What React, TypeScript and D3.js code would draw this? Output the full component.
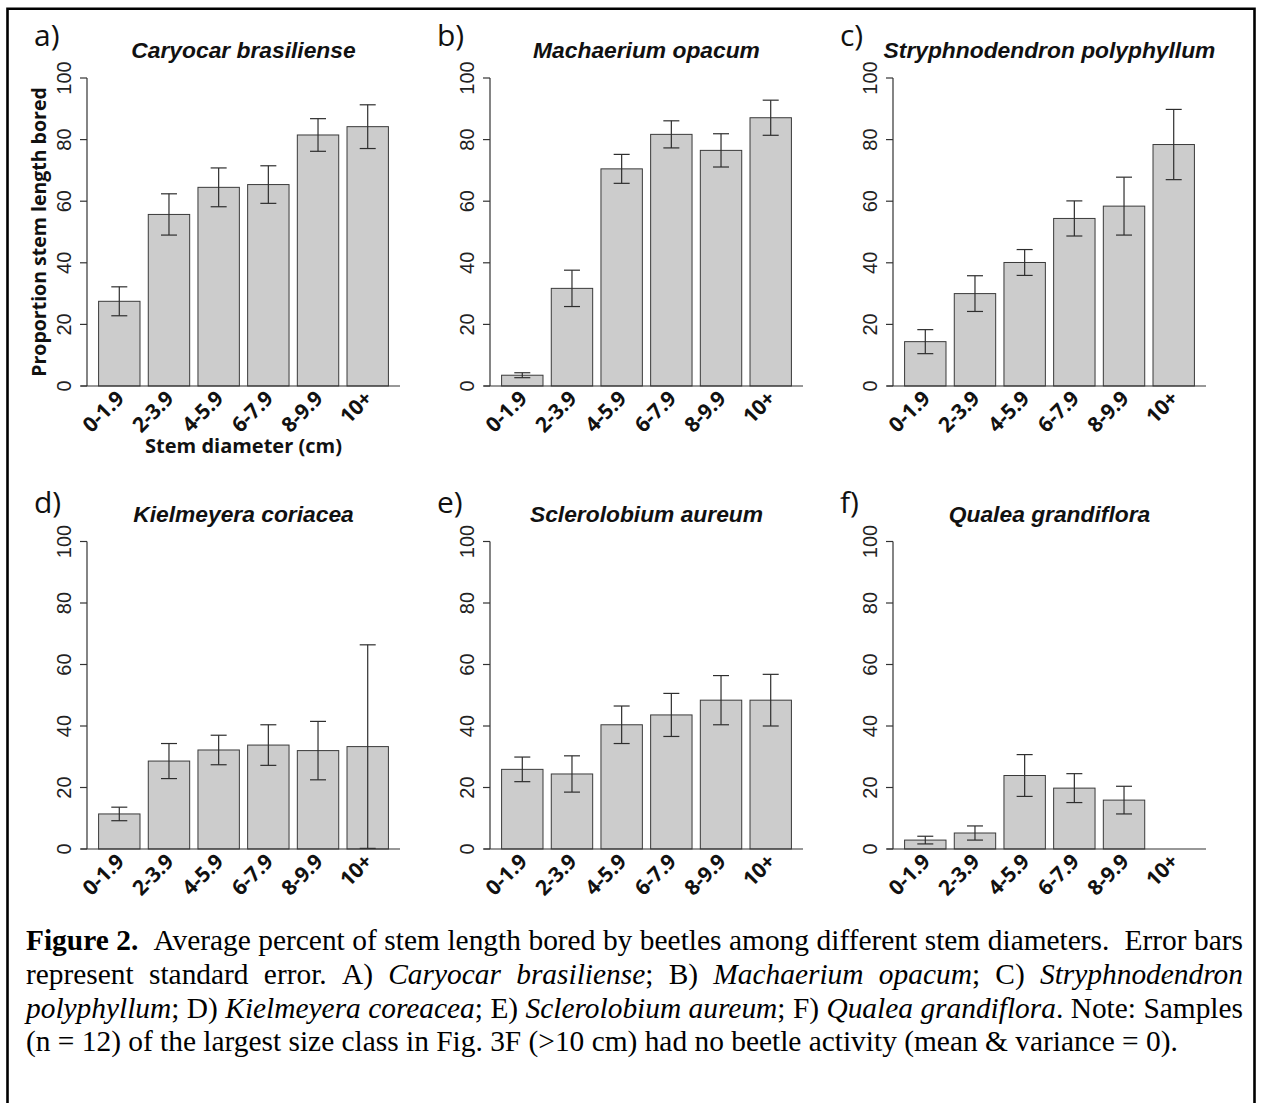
import React, { useMemo } from "react";
import * as d3 from "d3";

// Stem diameter classes (cm) shared by every panel
const sizeClasses = ["0-1.9", "2-3.9", "4-5.9", "6-7.9", "8-9.9", "10+"];
const yTicks = [0, 20, 40, 60, 80, 100];

const panelLetters = ["a)", "b)", "c)", "d)", "e)", "f)"];
const speciesNames = [
  "Caryocar brasiliense",
  "Machaerium opacum",
  "Stryphnodendron polyphyllum",
  "Kielmeyera coriacea",
  "Sclerolobium aureum",
  "Qualea grandiflora",
];

// Mean percent of stem length bored, and its standard error
const meanCaryocar = [27.5, 55.7, 64.5, 65.4, 81.5, 84.2];
const seCaryocar = [4.7, 6.7, 6.3, 6.1, 5.3, 7.1];
const meanMachaerium = [3.5, 31.7, 70.5, 81.7, 76.5, 87.1];
const seMachaerium = [0.8, 5.9, 4.7, 4.4, 5.4, 5.7];
const meanStryphnodendron = [14.4, 30.0, 40.1, 54.4, 58.4, 78.4];
const seStryphnodendron = [3.9, 5.8, 4.2, 5.7, 9.4, 11.4];
const meanKielmeyera = [11.4, 28.6, 32.2, 33.8, 32.0, 33.3];
const seKielmeyera = [2.2, 5.7, 4.8, 6.6, 9.5, 33.1];
const meanSclerolobium = [25.9, 24.4, 40.4, 43.6, 48.4, 48.4];
const seSclerolobium = [4.0, 5.9, 6.1, 7.0, 8.0, 8.4];
const meanQualea = [2.9, 5.2, 23.9, 19.8, 15.9, 0];
const seQualea = [1.25, 2.3, 6.8, 4.7, 4.5, 0];

const panelMeans = [meanCaryocar, meanMachaerium, meanStryphnodendron, meanKielmeyera, meanSclerolobium, meanQualea];
const panelSE = [seCaryocar, seMachaerium, seStryphnodendron, seKielmeyera, seSclerolobium, seQualea];

const yAxisTitle = "Proportion stem length bored";
const xAxisTitle = "Stem diameter (cm)";

type Run = { t: string; s?: "b" | "i" };
const captionLines: Run[][] = [
  [{ t: "Figure 2.", s: "b" }, { t: "  Average percent of stem length bored by beetles among different stem diameters.  Error bars" }],
  [
    { t: "represent standard error. A) " },
    { t: "Caryocar brasiliense", s: "i" },
    { t: "; B) " },
    { t: "Machaerium opacum", s: "i" },
    { t: "; C) " },
    { t: "Stryphnodendron", s: "i" },
  ],
  [
    { t: "polyphyllum", s: "i" },
    { t: "; D) " },
    { t: "Kielmeyera coreacea", s: "i" },
    { t: "; E) " },
    { t: "Sclerolobium aureum", s: "i" },
    { t: "; F) " },
    { t: "Qualea grandiflora", s: "i" },
    { t: ". Note: Samples" },
  ],
  [{ t: "(n = 12) of the largest size class in Fig. 3F (>10 cm) had no beetle activity (mean & variance = 0)." }],
];
const captionJustified = [true, true, true, false];

// Layout constants
const COL_X = [87, 490, 893];
const ROW_Y0 = [386, 849];
const ROW_Y100 = [78, 541.5];
const PLOT_W = 313;
const LETTER_BASE = [46, 513];
const TITLE_BASE = [57.5, 522];

const CAP_LEFT = 26;
const CAP_RIGHT = 1243;
const CAP_BASE = [950, 984, 1017.5, 1051];
const CAP_SIZE = 29.4;
const SERIF = '"Liberation Serif", "Times New Roman", serif';

const AXIS_COLOR = "#333";

function Panel({ i }: { i: number }) {
  const col = i % 3;
  const row = Math.floor(i / 3);
  const ax = COL_X[col];
  const y = d3.scaleLinear().domain([0, 100]).range([ROW_Y0[row], ROW_Y100[row]]);
  const x = d3
    .scaleBand<string>()
    .domain(sizeClasses)
    .range([ax, ax + PLOT_W])
    .paddingInner(1 / 6)
    .paddingOuter(0.2333);
  const means = panelMeans[i];
  const ses = panelSE[i];
  const bw = x.bandwidth();
  const y0 = y(0);
  const cx = (c: string) => (x(c) as number) + bw / 2;

  return (
    <g>
      <text
        x={ax - 53}
        y={LETTER_BASE[row]}
        fontFamily='"Open Sans", sans-serif'
        fontSize={30}
        fill="#111"
      >
        {panelLetters[i]}
      </text>
      <text
        x={ax + PLOT_W / 2}
        y={TITLE_BASE[row]}
        textAnchor="middle"
        fontFamily='"Liberation Sans", Arial, sans-serif'
        fontWeight="bold"
        fontStyle="italic"
        fontSize={22.8}
        fill="#111"
      >
        {speciesNames[i]}
      </text>

      {/* bars */}
      {sizeClasses.map((c, k) =>
        means[k] > 0 ? (
          <rect
            key={c}
            x={x(c)}
            y={y(means[k])}
            width={bw}
            height={y0 - y(means[k])}
            fill="#cccccc"
            stroke="#3a3a3a"
            strokeWidth={1}
          />
        ) : null
      )}

      {/* standard error whiskers */}
      {sizeClasses.map((c, k) => {
        if (!(ses[k] > 0)) return null;
        const hi = y(Math.min(100, means[k] + ses[k]));
        const lo = y(Math.max(0, means[k] - ses[k]));
        const m = cx(c);
        return (
          <g key={c} stroke="#2e2e2e" strokeWidth={1.2} fill="none">
            <line x1={m} x2={m} y1={hi} y2={lo} />
            <line x1={m - 8} x2={m + 8} y1={hi} y2={hi} />
            <line x1={m - 8} x2={m + 8} y1={lo} y2={lo} />
          </g>
        );
      })}

      {/* axes */}
      <line x1={ax - 6} x2={ax + PLOT_W} y1={y0} y2={y0} stroke={AXIS_COLOR} strokeWidth={1.2} />
      <line x1={ax} x2={ax} y1={y(0)} y2={y(100)} stroke={AXIS_COLOR} strokeWidth={1.2} />
      {yTicks.map((t) => (
        <g key={t}>
          <line x1={ax - 7} x2={ax} y1={y(t)} y2={y(t)} stroke={AXIS_COLOR} strokeWidth={1.2} />
          <text
            transform={`translate(${ax - 16},${y(t)}) rotate(-90)`}
            textAnchor="middle"
            fontFamily='"Liberation Sans", Arial, sans-serif'
            fontSize={20}
            fill="#222"
          >
            {t}
          </text>
        </g>
      ))}
      {sizeClasses.map((c) => (
        <text
          key={c}
          transform={`translate(${cx(c) + 6},${y0 + 14}) rotate(-45)`}
          textAnchor="end"
          fontFamily='"Open Sans", sans-serif'
          fontWeight="bold"
          fontSize={21}
          letterSpacing={-0.2}
          fill="#111"
        >
          {c}
        </text>
      ))}

      {i === 0 && (
        <>
          <text
            transform={`translate(46,${(y(0) + y(100)) / 2}) rotate(-90)`}
            textAnchor="middle"
            fontFamily='"Open Sans", sans-serif'
            fontWeight="bold"
            fontSize={19.5}
            fill="#111"
          >
            {yAxisTitle}
          </text>
          <text
            x={ax + PLOT_W / 2}
            y={453}
            textAnchor="middle"
            fontFamily='"Open Sans", sans-serif'
            fontWeight="bold"
            fontSize={20}
            fill="#111"
          >
            {xAxisTitle}
          </text>
        </>
      )}
    </g>
  );
}

type Word = { runs: Run[]; spaces: number };

function fontFor(s?: "b" | "i") {
  const w = s === "b" ? "bold " : "";
  const st = s === "i" ? "italic " : "";
  return `${st}${w}${CAP_SIZE}px ${SERIF}`;
}

function splitWords(line: Run[]): Word[] {
  const words: Word[] = [];
  let cur: Word | null = null;
  let pending = 0;
  for (const run of line) {
    for (const ch of run.t) {
      if (ch === " ") {
        if (cur) {
          words.push(cur);
          cur = null;
        }
        pending++;
      } else {
        if (!cur) {
          cur = { runs: [], spaces: pending };
          pending = 0;
        }
        const last = cur.runs[cur.runs.length - 1];
        if (last && last.s === run.s) last.t += ch;
        else cur.runs.push({ t: ch, s: run.s });
      }
    }
  }
  if (cur) words.push(cur);
  return words;
}

function Caption() {
  const laid = useMemo(() => {
    const canvas = document.createElement("canvas");
    const ctx = canvas.getContext("2d") as CanvasRenderingContext2D;
    const measure = (t: string, s?: "b" | "i") => {
      ctx.font = fontFor(s);
      return ctx.measureText(t).width;
    };
    return captionLines.map((line, li) => {
      const words = splitWords(line);
      const widths = words.map((w) => w.runs.reduce((a, r) => a + measure(r.t, r.s), 0));
      const total = widths.reduce((a, b) => a + b, 0);
      const nSpaces = words.slice(1).reduce((a, w) => a + w.spaces, 0);
      const gap = captionJustified[li] && nSpaces > 0 ? (CAP_RIGHT - CAP_LEFT - total) / nSpaces : measure(" ");
      let xPos = CAP_LEFT;
      return words.map((w, k) => {
        if (k > 0) xPos += w.spaces * gap;
        const item = { x: xPos, runs: w.runs };
        xPos += widths[k];
        return item;
      });
    });
  }, []);

  return (
    <g fontFamily={SERIF} fontSize={CAP_SIZE} fill="#000">
      {laid.map((words, li) =>
        words.map((w, k) => (
          <text key={`${li}-${k}`} x={w.x} y={CAP_BASE[li]}>
            {w.runs.map((r, q) => (
              <tspan
                key={q}
                fontWeight={r.s === "b" ? "bold" : "normal"}
                fontStyle={r.s === "i" ? "italic" : "normal"}
              >
                {r.t}
              </tspan>
            ))}
          </text>
        ))
      )}
    </g>
  );
}

export default function App() {
  return (
    <svg
      width={1262}
      height={1108}
      viewBox="0 0 1262 1108"
      style={{ position: "absolute", left: 0, top: 0, background: "#fff" }}
    >
      <rect x={0} y={0} width={1262} height={1108} fill="#fff" />
      <path d="M7.5,1103 V8.8 H1254.5 V1103" fill="none" stroke="#000" strokeWidth={2.6} />
      {panelLetters.map((_, i) => (
        <Panel key={i} i={i} />
      ))}
      <Caption />
    </svg>
  );
}
